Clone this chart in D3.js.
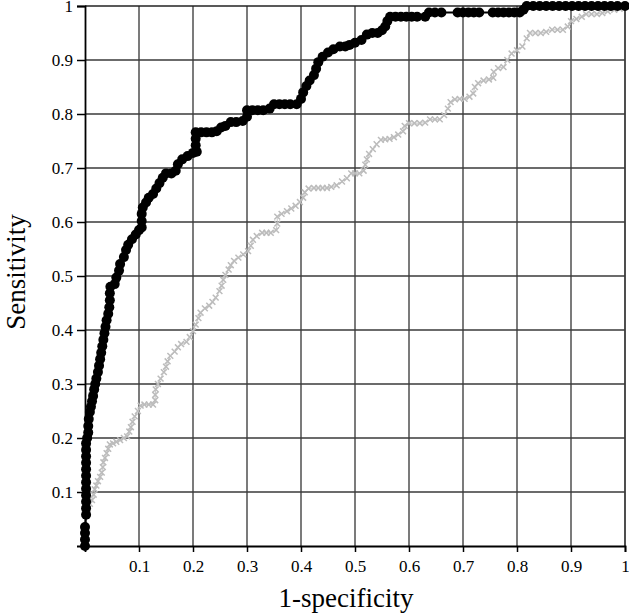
<!DOCTYPE html>
<html>
<head>
<meta charset="utf-8">
<script src="https://cdn.jsdelivr.net/npm/d3@7"></script>
<style>
	body { margin: 0; background: #fff; }
	svg { display: block; }
	text { font-family: "Liberation Serif", "Times New Roman", serif; fill: #000; }
</style>
</head>
<body>
<svg id="chart" width="629" height="613"></svg>
<script>
// ticks shown on both axes (0 is left unlabelled)
var tickValues = [0.1, 0.2, 0.3, 0.4, 0.5, 0.6, 0.7, 0.8, 0.9, 1];
var xTitle = "1-specificity";
var yTitle = "Sensitivity";

// black curve, [1-specificity, sensitivity]
var curveA = [
	[0,0],[0,0.012],[0,0.024],[0,0.035],[0.002,0.058],[0.002,0.07],[0.002,0.082],[0.002,0.094],
	[0.002,0.106],[0.002,0.118],[0.002,0.13],[0.002,0.142],[0.002,0.154],[0.002,0.166],[0.002,0.178],
	[0.002,0.19],[0.004,0.2],[0.006,0.21],[0.006,0.222],[0.007,0.235],[0.009,0.248],[0.011,0.258],
	[0.013,0.268],[0.015,0.278],[0.017,0.29],[0.019,0.3],[0.021,0.31],[0.024,0.322],[0.026,0.334],
	[0.028,0.346],[0.03,0.358],[0.032,0.37],[0.034,0.382],[0.036,0.394],[0.038,0.406],[0.04,0.418],
	[0.043,0.43],[0.045,0.442],[0.046,0.455],[0.046,0.468],[0.047,0.48],[0.055,0.485],[0.058,0.497],
	[0.063,0.51],[0.065,0.522],[0.072,0.535],[0.076,0.548],[0.08,0.558],[0.087,0.568],[0.094,0.577],
	[0.1,0.585],[0.105,0.59],[0.105,0.602],[0.105,0.615],[0.107,0.627],[0.113,0.636],[0.118,0.645],
	[0.126,0.652],[0.132,0.662],[0.138,0.672],[0.144,0.682],[0.15,0.69],[0.16,0.69],[0.168,0.695],
	[0.172,0.707],[0.18,0.716],[0.19,0.722],[0.2,0.728],[0.207,0.73],[0.205,0.742],[0.205,0.754],
	[0.205,0.766],[0.215,0.766],[0.225,0.766],[0.235,0.766],[0.244,0.768],[0.252,0.775],[0.26,0.778],
	[0.27,0.785],[0.28,0.785],[0.292,0.787],[0.3,0.795],[0.3,0.807],[0.31,0.807],[0.32,0.807],
	[0.33,0.807],[0.342,0.81],[0.35,0.818],[0.36,0.818],[0.37,0.818],[0.38,0.818],[0.392,0.818],
	[0.4,0.828],[0.404,0.84],[0.41,0.852],[0.416,0.862],[0.424,0.872],[0.428,0.884],[0.432,0.896],
	[0.44,0.906],[0.45,0.914],[0.46,0.92],[0.472,0.925],[0.482,0.925],[0.49,0.928],[0.5,0.932],
	[0.512,0.937],[0.522,0.947],[0.532,0.95],[0.542,0.95],[0.55,0.955],[0.556,0.962],[0.56,0.972],
	[0.565,0.98],[0.575,0.98],[0.585,0.98],[0.595,0.98],[0.605,0.98],[0.615,0.98],[0.63,0.98],
	[0.637,0.988],[0.648,0.988],[0.66,0.988],[0.69,0.988],[0.7,0.988],[0.71,0.988],[0.72,0.988],
	[0.73,0.988],[0.755,0.988],[0.765,0.988],[0.775,0.988],[0.785,0.988],[0.795,0.988],[0.805,0.988],
	[0.812,0.993],[0.818,1],[0.83,1],[0.842,1],[0.854,1],[0.866,1],[0.878,1],[0.89,1],[0.902,1],
	[0.914,1],[0.926,1],[0.938,1],[0.95,1],[0.962,1],[0.974,1],[0.986,1],[1,1]
];

// grey curve
var curveB = [
	[0,0],[0,0.03],[0,0.06],[0.005,0.068],[0.009,0.078],[0.013,0.085],[0.016,0.095],[0.018,0.105],
	[0.021,0.112],[0.024,0.12],[0.028,0.128],[0.031,0.136],[0.033,0.146],[0.034,0.155],[0.037,0.163],
	[0.04,0.172],[0.043,0.18],[0.046,0.188],[0.052,0.19],[0.058,0.193],[0.065,0.196],[0.072,0.2],
	[0.078,0.203],[0.082,0.212],[0.085,0.22],[0.088,0.23],[0.092,0.24],[0.098,0.25],[0.103,0.26],
	[0.11,0.262],[0.118,0.262],[0.126,0.262],[0.13,0.27],[0.13,0.28],[0.131,0.29],[0.135,0.3],
	[0.14,0.31],[0.146,0.322],[0.15,0.332],[0.153,0.342],[0.158,0.352],[0.166,0.36],[0.172,0.368],
	[0.178,0.374],[0.188,0.378],[0.194,0.387],[0.2,0.398],[0.205,0.41],[0.21,0.422],[0.214,0.432],
	[0.222,0.44],[0.23,0.445],[0.236,0.452],[0.242,0.46],[0.249,0.472],[0.253,0.482],[0.256,0.493],
	[0.26,0.502],[0.266,0.512],[0.27,0.52],[0.276,0.528],[0.284,0.534],[0.293,0.54],[0.302,0.546],
	[0.307,0.556],[0.311,0.567],[0.318,0.574],[0.328,0.58],[0.336,0.58],[0.344,0.58],[0.354,0.585],
	[0.356,0.597],[0.356,0.61],[0.364,0.615],[0.374,0.62],[0.382,0.625],[0.39,0.63],[0.398,0.637],
	[0.404,0.645],[0.407,0.655],[0.414,0.662],[0.424,0.663],[0.432,0.663],[0.44,0.663],[0.448,0.663],
	[0.456,0.665],[0.466,0.668],[0.476,0.675],[0.485,0.681],[0.493,0.69],[0.5,0.69],[0.508,0.69],
	[0.516,0.695],[0.519,0.706],[0.522,0.716],[0.526,0.726],[0.533,0.735],[0.54,0.744],[0.548,0.752],
	[0.556,0.753],[0.564,0.754],[0.572,0.757],[0.58,0.762],[0.589,0.768],[0.592,0.778],[0.6,0.783],
	[0.61,0.783],[0.62,0.783],[0.63,0.784],[0.639,0.79],[0.648,0.79],[0.657,0.79],[0.665,0.798],
	[0.672,0.81],[0.677,0.822],[0.685,0.827],[0.694,0.828],[0.703,0.828],[0.712,0.832],[0.719,0.838],
	[0.722,0.85],[0.728,0.857],[0.738,0.862],[0.748,0.864],[0.756,0.867],[0.757,0.878],[0.765,0.885],
	[0.775,0.887],[0.782,0.9],[0.79,0.912],[0.8,0.918],[0.81,0.925],[0.818,0.94],[0.824,0.95],
	[0.834,0.95],[0.844,0.95],[0.854,0.952],[0.865,0.956],[0.875,0.956],[0.885,0.956],[0.894,0.962],
	[0.9,0.972],[0.91,0.976],[0.92,0.98],[0.928,0.985],[0.938,0.985],[0.948,0.985],[0.958,0.987],
	[0.968,0.99],[0.98,0.993],[0.99,0.995],[0.997,1],[1,1]
];

(function(){

	var svg = d3.select("#chart");
	var plotLeft = 85, plotRight = 625, plotTop = 6, plotBottom = 546;

	var x = d3.scaleLinear().domain([0, 1]).range([plotLeft, plotRight]);
	var y = d3.scaleLinear().domain([0, 1]).range([plotBottom, plotTop]);

	// grid
	var grid = svg.append("g").attr("class", "grid");
	grid.selectAll("line.v")
		.data(tickValues)
		.enter()
		.append("line")
		.attr("class", "v")
		.attr("x1", function(d){ return x(d); })
		.attr("x2", function(d){ return x(d); })
		.attr("y1", plotTop)
		.attr("y2", plotBottom)
		.attr("stroke", function(d){ return d === 1 ? "#222" : "#5a5a5a"; })
		.attr("stroke-width", 1.6);
	grid.selectAll("line.h")
		.data(tickValues)
		.enter()
		.append("line")
		.attr("class", "h")
		.attr("y1", function(d){ return y(d); })
		.attr("y2", function(d){ return y(d); })
		.attr("x1", plotLeft)
		.attr("x2", plotRight)
		.attr("stroke", function(d){ return d === 1 ? "#222" : "#3a3a3a"; })
		.attr("stroke-width", 1.6);

	// axes
	var xAxis = d3.axisBottom(x)
				.tickValues(tickValues)
				.tickSize(6)
				.tickPadding(8)
				.tickFormat(d3.format("~g"));
	var yAxis = d3.axisLeft(y)
				.tickValues(tickValues)
				.tickSize(8)
				.tickPadding(4)
				.tickFormat(d3.format("~g"));

	var gx = svg.append("g")
		.attr("transform", "translate(0," + plotBottom + ")")
		.call(xAxis);
	var gy = svg.append("g")
		.attr("transform", "translate(" + plotLeft + ",0)")
		.call(yAxis);

	[gx, gy].forEach(function(g){
		g.attr("font-family", null).attr("font-size", null);
		g.select(".domain").attr("stroke", "#000").attr("stroke-width", 1.8);
		g.selectAll(".tick line").attr("stroke", "#000").attr("stroke-width", 1.5);
		g.selectAll(".tick text")
			.style("font-size", "17px")
			.attr("fill", "#000");
	});

	// curves
	var line = d3.line()
				.x(function(d){ return x(d[0]); })
				.y(function(d){ return y(d[1]); });

	svg.append("path")
		.datum(curveB)
		.attr("d", line)
		.attr("fill", "none")
		.attr("stroke", "#c8c8c8")
		.attr("stroke-width", 1);

	var cross = d3.symbol().type(d3.symbolTimes).size(24);
	svg.append("g")
		.selectAll("path")
		.data(curveB)
		.enter()
		.append("path")
		.attr("transform", function(d){ return "translate(" + x(d[0]) + "," + y(d[1]) + ")"; })
		.attr("d", cross)
		.attr("fill", "none")
		.attr("stroke", "#bcbcbc")
		.attr("stroke-width", 1.5);

	svg.append("path")
		.datum(curveA)
		.attr("d", line)
		.attr("fill", "none")
		.attr("stroke", "#000")
		.attr("stroke-width", 2);

	svg.append("g")
		.selectAll("circle")
		.data(curveA)
		.enter()
		.append("circle")
		.attr("cx", function(d){ return x(d[0]); })
		.attr("cy", function(d){ return y(d[1]); })
		.attr("r", 5)
		.attr("fill", "#000");

	// titles
	svg.append("text")
		.attr("x", 346)
		.attr("y", 607)
		.attr("text-anchor", "middle")
		.style("font-size", "27px")
		.text(xTitle);

	svg.append("text")
		.attr("transform", "translate(25," + 272 + ") rotate(-90)")
		.attr("text-anchor", "middle")
		.style("font-size", "27px")
		.text(yTitle);

})();
</script>
</body>
</html>
